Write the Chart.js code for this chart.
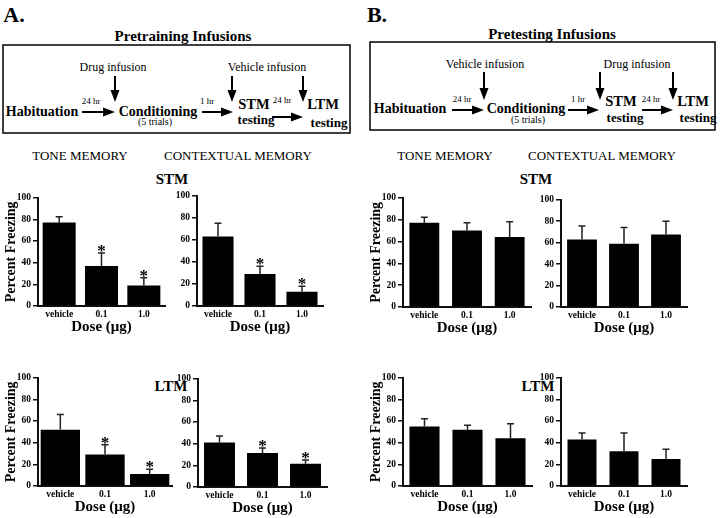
<!DOCTYPE html>
<html>
<head>
<meta charset="utf-8">
<script src="https://cdn.jsdelivr.net/npm/chart.js@4.4.1/dist/chart.umd.min.js"></script>
<style>
body{margin:0;background:#fff;}
#page{position:relative;width:720px;height:518px;overflow:hidden;font-family:"Liberation Serif","Times New Roman",serif;color:#000;}
.t{position:absolute;white-space:nowrap;line-height:1;transform:translate(-50%,-50%);}
.b{font-weight:bold;}
canvas{position:absolute;}
svg{position:absolute;left:0;top:0;}
</style>
</head>
<body>
<div id="page">
<svg width="720" height="518" id="arrows"></svg>
</div>
<script>
const doses = ['vehicle', '0.1', '1.0'];
const yTicks = [0, 20, 40, 60, 80, 100];

// A. pretraining infusions (mean, sem)
const aStmTone = [77, 37, 19];
const aStmToneSem = [5.5, 12, 7];
const aStmCtx = [63, 29, 13];
const aStmCtxSem = [12, 7, 5];
const aLtmTone = [52, 29, 11];
const aLtmToneSem = [14, 9, 4.5];
const aLtmCtx = [41, 31.5, 21.5];
const aLtmCtxSem = [6, 4.5, 3.5];
const aSig = ['', '*', '*'];

// B. pretesting infusions
const bStmTone = [77, 70, 64];
const bStmToneSem = [5, 7, 14];
const bStmCtx = [63, 59, 67.5];
const bStmCtxSem = [12.5, 15, 12.5];
const bLtmTone = [55, 52, 44];
const bLtmToneSem = [7, 4, 13.5];
const bLtmCtx = [43, 32, 25];
const bLtmCtxSem = [6, 17, 9];
const bSig = ['', '', ''];

const F = '"Liberation Serif", "Times New Roman", serif';
const page = document.getElementById('page');

function txt(s, x, y, size, bold) {
  var d = document.createElement('div');
  d.className = 't' + (bold ? ' b' : '');
  d.textContent = s;
  d.style.left = x + 'px';
  d.style.top = y + 'px';
  d.style.fontSize = size + 'px';
  page.appendChild(d);
}

function down(x, y1, y2) {
  return '<line x1="' + x + '" y1="' + y1 + '" x2="' + x + '" y2="' + (y2 - 10) + '" stroke="#000" stroke-width="2"/>' +
    '<polygon points="' + (x - 4.5) + ',' + (y2 - 12) + ' ' + (x + 4.5) + ',' + (y2 - 12) + ' ' + x + ',' + y2 + '" fill="#000"/>';
}
function right(x1, x2, y) {
  return '<line x1="' + x1 + '" y1="' + y + '" x2="' + (x2 - 10) + '" y2="' + y + '" stroke="#000" stroke-width="2"/>' +
    '<polygon points="' + (x2 - 12) + ',' + (y - 4.5) + ' ' + (x2 - 12) + ',' + (y + 4.5) + ' ' + x2 + ',' + y + '" fill="#000"/>';
}

var svg = '';
svg += '<rect x="3" y="45" width="347" height="88" fill="none" stroke="#000" stroke-width="1.5"/>';
svg += down(115, 76, 102) + right(82, 115, 112) + right(202, 233, 112) + down(232, 76, 102) + right(272, 303, 117) + down(303, 76, 102);
svg += '<rect x="370" y="42" width="345" height="88" fill="none" stroke="#000" stroke-width="1.5"/>';
svg += down(484, 72, 100) + right(452, 484, 110) + right(568, 599, 110) + down(600, 72, 100) + right(642, 673, 110) + down(673, 72, 100);
document.getElementById('arrows').innerHTML = svg;

txt('A.', 14, 15, 22, true);
txt('Pretraining Infusions', 183, 36, 15, true);
txt('Drug infusion', 113, 67, 12);
txt('Habituation', 42, 112, 14, true);
txt('24 hr', 91, 101, 9);
txt('Conditioning', 158, 112, 14, true);
txt('(5 trials)', 155, 122, 10);
txt('1 hr', 207, 101, 9);
txt('STM', 254, 104, 14.5, true);
txt('testing', 256, 119, 13, true);
txt('24 hr', 282, 100, 9);
txt('Vehicle infusion', 267, 67, 12);
txt('LTM', 323, 104, 14.5, true);
txt('testing', 329, 122, 13, true);

txt('B.', 377, 15, 22, true);
txt('Pretesting Infusions', 552, 34, 15, true);
txt('Vehicle infusion', 485, 64, 12);
txt('Habituation', 410, 109, 14, true);
txt('24 hr', 462, 99, 9);
txt('Conditioning', 526, 109, 14, true);
txt('(5 trials)', 528, 120, 10);
txt('1 hr', 578, 99, 9);
txt('STM', 621, 101, 14.5, true);
txt('testing', 625, 117, 13, true);
txt('24 hr', 651, 99, 9);
txt('Drug infusion', 637, 64, 12);
txt('LTM', 693, 101, 14.5, true);
txt('testing', 698, 117, 13, true);

txt('TONE MEMORY', 80, 155, 13);
txt('CONTEXTUAL MEMORY', 238, 155, 13);
txt('TONE MEMORY', 445, 155, 13);
txt('CONTEXTUAL MEMORY', 602, 155, 13);
txt('STM', 172, 179, 15, true);
txt('STM', 536, 179, 15, true);
txt('LTM', 171, 386, 15, true);
txt('LTM', 538, 386, 15, true);

// error bars + significance stars
const errbars = {
  id: 'errbars',
  afterDatasetsDraw(chart) {
    const ctx = chart.ctx, y = chart.scales.y;
    const ds = chart.data.datasets[0];
    const meta = chart.getDatasetMeta(0);
    ctx.save();
    ctx.strokeStyle = '#222';
    ctx.lineWidth = 1.5;
    meta.data.forEach(function (bar, i) {
      const top = y.getPixelForValue(ds.data[i] + ds.sem[i]);
      ctx.beginPath();
      ctx.moveTo(bar.x, bar.y);
      ctx.lineTo(bar.x, top);
      ctx.moveTo(bar.x - 3.5, top);
      ctx.lineTo(bar.x + 3.5, top);
      ctx.stroke();
      if (ds.sig[i]) {
        ctx.font = 'bold 17px ' + F;
        ctx.textAlign = 'center';
        ctx.textBaseline = 'alphabetic';
        ctx.fillStyle = '#000';
        ctx.fillText(ds.sig[i], bar.x, top + 3);
      }
    });
    ctx.restore();
  }
};
Chart.register(errbars);

function makeChart(c) {
  const yW = c.yTitle ? 38 : 24, xH = 33, padT = 7, padR = 4;
  const w = c.r - c.l + yW + padR, h = c.b - c.t + padT + xH;
  const cv = document.createElement('canvas');
  cv.width = w; cv.height = h;
  cv.style.left = (c.l - yW) + 'px';
  cv.style.top = (c.t - padT) + 'px';
  cv.style.width = w + 'px';
  cv.style.height = h + 'px';
  page.appendChild(cv);
  new Chart(cv, {
    type: 'bar',
    data: {
      labels: doses,
      datasets: [{
        data: c.vals, sem: c.sem, sig: c.sig,
        backgroundColor: '#000', borderWidth: 0,
        barPercentage: c.bp, categoryPercentage: 1
      }]
    },
    options: {
      responsive: false,
      animation: false,
      layout: { padding: { top: padT, right: padR, left: 0, bottom: 0 } },
      plugins: { legend: { display: false }, tooltip: { enabled: false } },
      scales: {
        x: {
          grid: { display: false, drawTicks: false, tickLength: 0 },
          border: { color: '#111', width: 2 },
          ticks: { color: '#000', font: { family: F, size: 9.5, weight: 'bold' }, padding: 3, maxRotation: 0, autoSkip: false },
          title: { display: true, text: 'Dose (μg)', color: '#000', font: { family: F, size: 15, weight: 'bold' }, padding: { top: 0, bottom: 3 } },
          afterFit: function (s) { s.height = xH; }
        },
        y: {
          min: 0, max: 100,
          afterBuildTicks: function (s) { s.ticks = yTicks.map(function (v) { return { value: v }; }); },
          grid: { drawOnChartArea: false, drawTicks: true, tickLength: 5, color: '#111', lineWidth: 1.5 },
          border: { color: '#111', width: 2 },
          ticks: { color: '#000', font: { family: F, size: 9.5, weight: 'bold' }, padding: 2 },
          title: { display: !!c.yTitle, text: 'Percent Freezing', color: '#000', font: { family: F, size: 14, weight: 'bold' }, padding: { top: 3, bottom: 0 } },
          afterFit: function (s) { s.width = yW; }
        }
      }
    }
  });
}

makeChart({ l: 38, r: 165, t: 197, b: 306, vals: aStmTone, sem: aStmToneSem, sig: aSig, yTitle: true, bp: 0.78 });
makeChart({ l: 197, r: 323, t: 195, b: 306, vals: aStmCtx, sem: aStmCtxSem, sig: aSig, bp: 0.74 });
makeChart({ l: 38, r: 172, t: 377, b: 486, vals: aLtmTone, sem: aLtmToneSem, sig: aSig, yTitle: true, bp: 0.88 });
makeChart({ l: 198, r: 327, t: 378, b: 487, vals: aLtmCtx, sem: aLtmCtxSem, sig: aSig, bp: 0.72 });
makeChart({ l: 403, r: 531, t: 197, b: 307, vals: bStmTone, sem: bStmToneSem, sig: bSig, yTitle: true, bp: 0.7 });
makeChart({ l: 561, r: 687, t: 199, b: 307, vals: bStmCtx, sem: bStmCtxSem, sig: bSig, bp: 0.71 });
makeChart({ l: 403, r: 532, t: 377, b: 486, vals: bLtmTone, sem: bLtmToneSem, sig: bSig, yTitle: true, bp: 0.7 });
makeChart({ l: 561, r: 687, t: 377, b: 486, vals: bLtmCtx, sem: bLtmCtxSem, sig: bSig, bp: 0.69 });
</script>
</body>
</html>
